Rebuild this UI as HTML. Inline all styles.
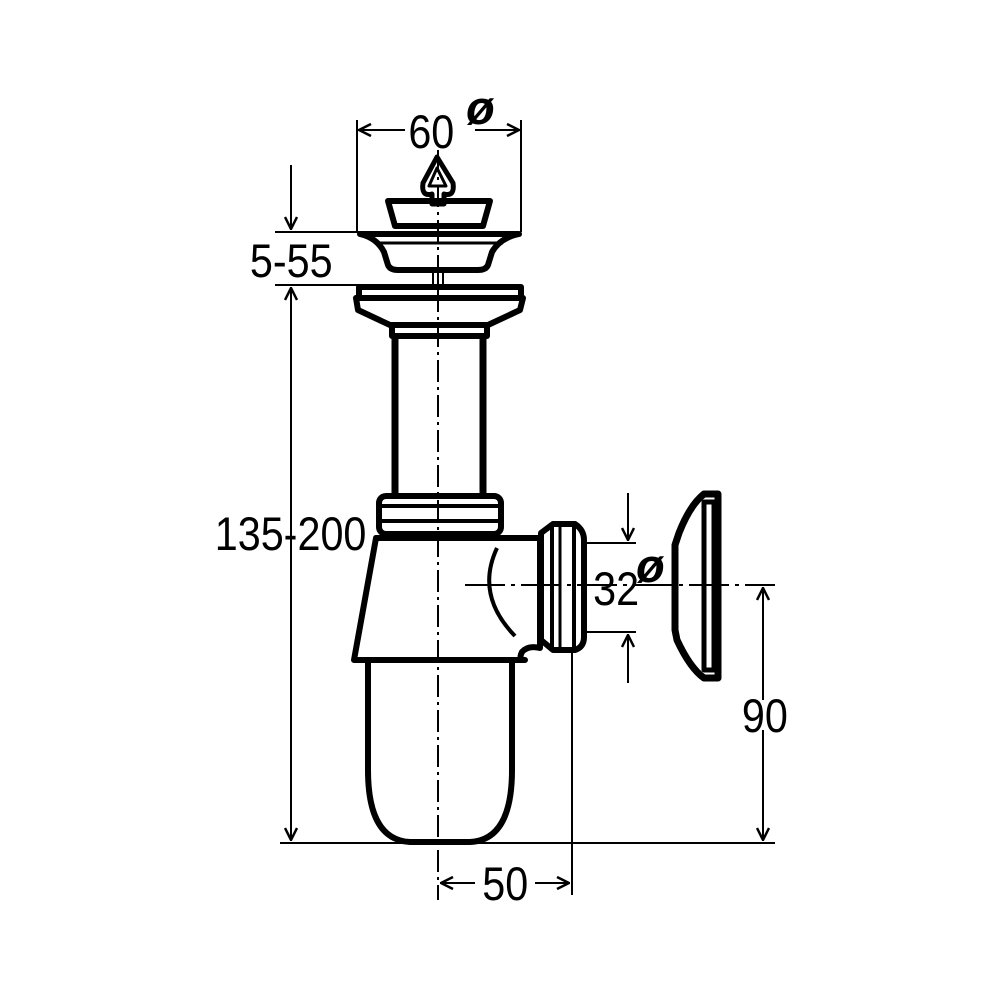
<!DOCTYPE html>
<html><head><style>html,body{margin:0;padding:0;background:#fff}svg{display:block}text{font-family:"Liberation Sans",sans-serif;font-size:47px;fill:#000}</style></head>
<body>
<svg width="1000" height="1000" viewBox="0 0 1000 1000" xmlns="http://www.w3.org/2000/svg">
<defs>
<marker id="a" markerWidth="14" markerHeight="14" refX="13" refY="7" orient="auto" markerUnits="userSpaceOnUse"><path d="M1,1 L13,7 L1,13" fill="none" stroke="#000" stroke-width="2.5"/></marker>
</defs>
<g fill="none" stroke="#000">
<line x1="438" y1="150" x2="438" y2="900" stroke-width="2" stroke-dasharray="22,5,3,5"/>
<line x1="465" y1="585" x2="775" y2="585" stroke-width="2" stroke-dasharray="40,6,4,6"/>
<g stroke-width="2">
<line x1="357" y1="120" x2="357" y2="232"/><line x1="521" y1="120" x2="521" y2="232"/>
<line x1="405" y1="130" x2="359" y2="130" marker-end="url(#a)"/><line x1="475" y1="130" x2="519" y2="130" marker-end="url(#a)"/>
<line x1="291" y1="165" x2="291" y2="229" marker-end="url(#a)"/>
<line x1="275" y1="232" x2="365" y2="232"/><line x1="275" y1="285" x2="360" y2="285"/>
<line x1="291" y1="560" x2="291" y2="288" marker-end="url(#a)"/><line x1="291" y1="560" x2="291" y2="840" marker-end="url(#a)"/>
<line x1="280" y1="843" x2="775" y2="843"/>
<line x1="583" y1="543" x2="636" y2="543"/><line x1="583" y1="632" x2="636" y2="632"/>
<line x1="628" y1="493" x2="628" y2="540" marker-end="url(#a)"/><line x1="628" y1="683" x2="628" y2="635" marker-end="url(#a)"/>
<line x1="763" y1="700" x2="763" y2="588" marker-end="url(#a)"/><line x1="763" y1="730" x2="763" y2="840" marker-end="url(#a)"/>
<line x1="572" y1="650" x2="572" y2="895"/>
<line x1="475" y1="883" x2="441" y2="883" marker-end="url(#a)"/><line x1="535" y1="883" x2="569" y2="883" marker-end="url(#a)"/>
</g>
<g stroke-width="6" stroke-linejoin="round">
<path d="M437,157 L423,183 Q421,197 432,194 L432,204 L444,204 L444,194 Q455,197 453,183 Z" stroke-width="5"/>
<path d="M437,168 L429,186 L446,186 Z" stroke-width="3"/>
<path d="M388,201 L490,201 L483,226 L395,226 Z"/>
<path d="M360,234 L519,234 Q500,238 492,252 L488,265 Q486,270 478,270 L398,270 Q390,270 388,265 L384,252 Q377,238 360,234 Z"/>
<line x1="375" y1="243" x2="503" y2="243" stroke-width="3"/>
<path d="M433,271 L433,285 M438,271 L438,285 M443,271 L443,285" stroke-width="2"/>
<rect x="359" y="287" width="162" height="11"/>
<path d="M356,298 L523,298 L520,310 L488,325 L390,325 L358,310 Z"/>
<rect x="392" y="325" width="95" height="11"/>
<line x1="395" y1="336" x2="395" y2="496" stroke-width="7"/><line x1="483" y1="336" x2="483" y2="496" stroke-width="7"/>
<rect x="379" y="496" width="122" height="38" rx="7"/>
<line x1="381" y1="506" x2="499" y2="506" stroke-width="4"/><line x1="381" y1="521" x2="499" y2="521" stroke-width="4"/>
<path d="M376,538 L540,538 L540,648 Q528,645 522,652 Q518,660 525,660 L354,660 Z"/>
<path d="M497,548 Q475,595 515,636" stroke-width="4"/>
<path d="M541,533 L553,524 L575,524 Q584,530 584,540 L584,637 Q584,647 575,650 L553,650 L541,640 Z"/>
<line x1="552" y1="526" x2="552" y2="648" stroke-width="4"/><line x1="560" y1="526" x2="560" y2="648" stroke-width="3"/><line x1="574" y1="526" x2="574" y2="648" stroke-width="4"/>
<path d="M368,662 L368,770 Q368,840 410,842 L470,842 Q512,840 512,770 L512,662"/>
<path d="M704,494 L718,494 L718,678 L704,678 Q690,668 677,640 L675,630 L675,545 L679,533 Q690,505 704,494 Z" stroke-width="7"/>
<rect x="704" y="502" width="10" height="168" stroke-width="5"/>
</g>
</g>
<g transform="scale(0.88,1)">
<text x="464" y="148">60</text>
<text x="284" y="277">5-55</text>
<text x="244" y="550">135-200</text>
<text x="674" y="605">32</text>
<text x="843" y="732">90</text>
<text x="548" y="900">50</text>
</g>
<text x="466" y="124" font-size="32" font-weight="bold" font-style="italic">ø</text>
<text x="636" y="582" font-size="32" font-weight="bold" font-style="italic">ø</text>
</svg>
</body></html>
